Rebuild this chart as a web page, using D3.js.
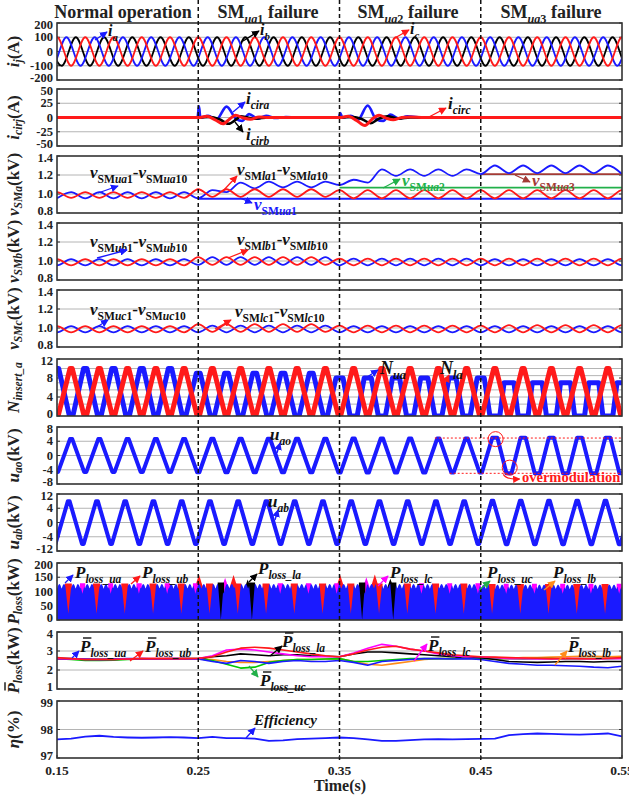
<!DOCTYPE html>
<html>
<head>
<meta charset="utf-8">
<script src="https://cdn.jsdelivr.net/npm/d3@7"></script>
<style>
  body { margin: 0; background: #fff; }
  text { font-family: "Liberation Serif", "Times New Roman", serif; font-weight: bold; }
</style>
</head>
<body>
<div id="chart"></div>
<script>
/// values

const xTicks = [0.15, 0.25, 0.35, 0.45, 0.55]
const faults = [0.25, 0.35, 0.45]
const half = 0.01                      // half period of the 50 Hz waveforms

// panel 1 : arm currents, first positive peak time + amplitude per segment
const iPeakTime = { a: 0.15667, b: 0.16333, c: 0.15 }
const iAmp = [100, 100, 100, 100]

// panel 2 : circulating currents [t, A]
const cirBlue = [[0.15,0],[0.2495,0],[0.2505,20],[0.2515,0],[0.257,3],[0.263,-3],[0.27,19],[0.277,-3],[0.281,-6],[0.286,6],[0.292,-2],[0.298,3],[0.305,-1],[0.312,1],[0.32,0],[0.3495,0],[0.3505,8],[0.352,0],[0.358,3],[0.363,-4],[0.37,21],[0.376,-3],[0.381,-6],[0.386,5],[0.392,-2],[0.398,2],[0.41,0],[0.55,0]]
const cirBlack = [[0.15,0],[0.25,0],[0.258,1],[0.265,-3],[0.2715,-11],[0.277,-3],[0.28,2],[0.285,0],[0.29,-2],[0.3,0],[0.35,0],[0.36,1],[0.366,-3],[0.372,-10],[0.378,-2],[0.384,2],[0.392,-2],[0.4,0],[0.55,0]]
const cirRed = [[0.15,0],[0.25,0],[0.256,2],[0.262,-4],[0.2675,-11],[0.2725,-2],[0.2765,4],[0.282,-1],[0.287,-3],[0.293,1],[0.3,0],[0.35,0],[0.356,2],[0.362,-5],[0.368,-14],[0.373,-3],[0.378,4],[0.383,-1],[0.388,-4],[0.394,0],[0.4,1],[0.41,0],[0.55,0]]

// panel 3 : upper arm SM voltages of phase a, one extremum every 10 ms from 0.15 s
const vUaExt = [0.955,1.02,0.955,1.02,0.955,1.02,0.955,1.02,0.955,1.02,
                0.955,1.04,1.02,1.12,1.06,1.13,1.07,1.13,1.07,1.13,
                1.095,1.15,1.12,1.26,1.19,1.26,1.19,1.26,1.19,1.26,
                1.21,1.30,1.22,1.30,1.22,1.30,1.22,1.30,1.22,1.30,1.21]
const vLaHi = [1.02, 1.05, 1.04, 1.04], vLaLo = [0.96, 0.97, 0.955, 0.955]
const vFailed = [[0.95, 0.25, "#1a1aff"], [1.067, 0.35, "#22b04a"], [1.21, 0.45, "#a33a35"]]  // level, from, colour
// panels 4, 5
const vUbHi = [1.02, 1.04, 1.025, 1.02], vUbLo = [0.955, 0.96, 0.955, 0.955]
const vLbHi = [1.02, 1.04, 1.025, 1.025], vLbLo = [0.955, 0.96, 0.955, 0.955]
const vUcHi = [1.02, 1.025, 1.02, 1.02], vUcLo = [0.955, 0.955, 0.955, 0.955]
const vLcHi = [1.02, 1.04, 1.025, 1.03], vLcLo = [0.955, 0.96, 0.955, 0.955]

// panel 6 : inserted SMs
const nUaHi = [10, 9, 8, 7], nUaLo = [0, 0, 0, 0], nUaFlat = [0.0012, 0.0014, 0.0025, 0.0035]
const nLaHi = [10, 10, 10, 10], nLaLo = [0, 0, 0, 0], nLaFlat = [0.0008, 0.0008, 0.0008, 0.0008]

// panels 7, 8 : output voltages (kV)
const uaoHi = [4.6, 4.7, 4.8, 5.0], uaoLo = [-4.6, -4.7, -4.8, -5.0], uaoFlat = [0.0008, 0.0008, 0.0008, 0.0018]
const uabHi = [6, 6, 6, 6.1], uabLo = [-6, -6, -6, -6.1]
const uabTickLabels = ["12", "4", "0", "-4", "-12"]

// panel 9 : instantaneous losses (kW)
const lossTop = [126, 126, 126, 124]
const lossHump = 0.0033
const lossRedNotch = d3.range(0.158, 0.56, 0.02)
const lossMagNotch = d3.range(0.168, 0.56, 0.02)
const lossBlackNotch = [0.266, 0.288, 0.366, 0.388]
const lossPeaks = [[0.2505,160,"red"],[0.269,148,"magenta"],[0.275,158,"red"],[0.285,142,"black"],
                   [0.3505,158,"red"],[0.369,150,"magenta"],[0.375,160,"red"],[0.386,145,"black"]]

// panel 10 : average losses (kW), one value every 10 ms from 0.15 s
const pUa = [2.62,2.6,2.57,2.55,2.57,2.6,2.6,2.58,2.6,2.6,2.58, 2.45,2.35,2.5,2.45,2.35,2.45,2.5,2.45,2.45,2.5, 2.4,2.25,2.45,2.5,2.55,2.6,2.6,2.58,2.6,2.55, 2.45,2.35,2.3,2.25,2.25,2.22,2.2,2.15,2.12,2.2]
const pUb = [2.65,2.6,2.55,2.55,2.55,2.58,2.6,2.6,2.6,2.6,2.62, 2.7,2.95,3.15,3.2,3.15,3.05,2.95,2.85,2.75,2.7, 2.85,3.05,3.2,3.25,3.1,3.0,2.9,2.8,2.75,2.7, 2.68,2.65,2.63,2.62,2.6,2.62,2.6,2.6,2.62,2.65]
const pLc = [2.6,2.58,2.55,2.55,2.55,2.58,2.6,2.6,2.6,2.6,2.6, 2.75,3.05,3.1,3.05,2.95,2.85,2.75,2.7,2.7,2.7, 2.9,3.15,3.35,3.25,3.1,3.0,2.85,2.75,2.7,2.7, 2.65,2.6,2.6,2.58,2.58,2.6,2.6,2.58,2.6,2.6]
const pLa = [2.6,2.58,2.55,2.55,2.55,2.58,2.58,2.58,2.58,2.58,2.6, 2.7,2.75,2.85,2.8,2.75,2.8,2.8,2.75,2.72,2.7, 2.85,2.95,2.95,2.9,2.85,2.8,2.75,2.7,2.7,2.65, 2.55,2.45,2.42,2.4,2.42,2.45,2.45,2.42,2.45,2.45]
const pUc = [2.6,2.55,2.5,2.5,2.52,2.55,2.58,2.58,2.58,2.6,2.6, 2.5,2.3,2.1,2.15,2.4,2.5,2.55,2.55,2.58,2.6, 2.45,2.45,2.5,2.55,2.6,2.6,2.6,2.6,2.62,2.6, 2.6,2.6,2.58,2.6,2.6,2.58,2.6,2.6,2.6,2.62]
const pLb = [2.6,2.6,2.58,2.58,2.58,2.58,2.6,2.6,2.6,2.6,2.6, 2.55,2.45,2.4,2.4,2.45,2.5,2.55,2.55,2.58,2.6, 2.45,2.3,2.25,2.35,2.45,2.55,2.6,2.6,2.62,2.6, 2.6,2.62,2.65,2.65,2.68,2.7,2.72,2.72,2.7,2.72]

// panel 11 : efficiency (%)
const eff = [97.65,97.68,97.75,97.78,97.74,97.72,97.71,97.72,97.73,97.72,97.7, 97.74,97.7,97.7,97.68,97.6,97.62,97.66,97.68,97.7,97.72, 97.7,97.65,97.6,97.6,97.63,97.65,97.66,97.65,97.66,97.67, 97.68,97.8,97.84,97.86,97.85,97.83,97.82,97.84,97.86,97.76]

/// layout

const blue = "#1a1aff", red = "#ff1a1a", black = "#000", magenta = "#ff00ff", green = "#00c800", orange = "#ff8c1a"
const panelTop = [23, 89, 156, 223, 290, 359, 427, 494, 563, 632, 701]
const panelH = 57

let svg = d3.select("#chart").append("svg").attr("width", 629).attr("height", 796)
let x = d3.scaleLinear().domain([0.15, 0.55]).range([57, 622])

let f1 = d3.format(".1f")
const panels = [
  { dom: [-200, 200], ticks: [200, 100, 0, -100, -200], grid: [100, 0, -100], label: [["i",1],["j",1,1],["(A)"]] },
  { dom: [-50, 50], ticks: [50, 25, 0, -25, -50], grid: [25, 0, -25], label: [["i",1],["cirj",1,1],["(A)"]] },
  { dom: [0.8, 1.4], ticks: [1.4, 1.2, 1.0, 0.8], fmt: f1, grid: [1.2, 1.0], label: [["v",1],["SMa",1,1],["(kV)"]] },
  { dom: [0.8, 1.4], ticks: [1.4, 1.2, 1.0, 0.8], fmt: f1, grid: [1.2, 1.0], label: [["v",1],["SMb",1,1],["(kV)"]] },
  { dom: [0.8, 1.4], ticks: [1.4, 1.2, 1.0, 0.8], fmt: f1, grid: [1.2, 1.0], label: [["v",1],["SMc",1,1],["(kV)"]] },
  { dom: [0, 12], ticks: [12, 8, 4, 0], grid: [10, 8.5, 7, 5.5, 4, 2.5], label: [["N",1],["insert_a",1,1]] },
  { dom: [-8, 8], ticks: [8, 4, 0, -4, -8], grid: [4, 0, -4], label: [["u",1],["ao",1,1],["(kV)"]] },
  { dom: [-8, 8], ticks: [8, 4, 0, -4, -8], fmt: (d, i) => uabTickLabels[i], grid: [4, 0, -4], label: [["u",1],["ab",1,1],["(kV)"]] },
  { dom: [0, 200], ticks: [200, 150, 100, 50, 0], grid: [150, 100, 50], label: [["P",1],["loss",1,1],["(kW)"]] },
  { dom: [1, 4], ticks: [4, 3, 2, 1], grid: [3, 2], label: [["P",1],["loss",1,1],["(kW)"]], bar: true },
  { dom: [97, 99], ticks: [99, 98, 97], grid: [98], label: [["η",1],["(%)"]] }
]

// arrow heads
let defs = svg.append("defs")
const arrowColors = { blue: blue, red: red, black: black, magenta: magenta, green: "#22b04a", orange: orange, brown: "#a33a35" }
Object.entries(arrowColors).forEach(([k, c]) => {
  defs.append("marker").attr("id", "ah-" + k).attr("viewBox", "0 0 10 10").attr("refX", 9).attr("refY", 5)
    .attr("markerWidth", 6).attr("markerHeight", 6).attr("orient", "auto")
    .append("path").attr("d", "M0,0L10,5L0,10z").attr("fill", c)
})

function seg(t) { return t < 0.25 ? 0 : t < 0.35 ? 1 : t < 0.45 ? 2 : 3 }

// knots at every extremum of a periodic wave, hi/lo taken per segment
function extrema(t0, hi, lo, startHi, flat) {
  let pts = []
  for (let k = -2; k <= 42; k++) {
    let t = t0 + k * half
    let s = seg(t)
    let up = (Math.abs(k) % 2 === 0) === startHi
    let v = up ? hi[s] : lo[s]
    let w = flat ? flat[s] : 0
    if (w) { pts.push([t - w, v]); pts.push([t + w, v]) } else pts.push([t, v])
  }
  return pts
}
function steps(vals) { return vals.map((v, i) => [0.15 + i * half, v]) }

// rich text with italic / subscript parts: [text, italic, sub]
function rich(g, px, py, parts, size, color, anchor, subShift) {
  let t = g.append("text").attr("x", px).attr("y", py).attr("font-size", size)
    .attr("fill", color || "#111").attr("text-anchor", anchor || "start")
  let shift = 0
  parts.forEach(p => {
    let target = p[2] ? size * (subShift || 0.3) : 0
    t.append("tspan").attr("dy", target - shift).attr("font-size", p[2] ? size * 0.68 : size)
      .attr("font-style", p[1] ? "italic" : "normal").text(p[0])
    shift = target
  })
  return t
}
function overbar(g, t) {
  let r = t.node().getExtentOfChar(0)
  g.append("line").attr("x1", r.x + 3).attr("x2", r.x + r.width + 1).attr("y1", r.y + 1).attr("y2", r.y + 1)
    .attr("stroke", "#111").attr("stroke-width", 1.4)
}
function arrow(x1, y1, x2, y2, c) {
  svg.append("line").attr("x1", x1).attr("y1", y1).attr("x2", x2).attr("y2", y2)
    .attr("stroke", arrowColors[c]).attr("stroke-width", 1.3).attr("marker-end", `url(#ah-${c})`)
}

/// panels: frame, grid, ticks, labels
let ys = []
let plots = []
panels.forEach((p, i) => {
  let y = d3.scaleLinear().domain(p.dom).range([panelTop[i] + panelH, panelTop[i]])
  ys.push(y)
  let g = svg.append("g")
  g.selectAll(".grid").data(p.grid).enter().append("line")
    .attr("x1", 57).attr("x2", 622).attr("y1", d => y(d)).attr("y2", d => y(d))
    .attr("stroke", "#b4b4b4").attr("stroke-width", 1)
  svg.append("clipPath").attr("id", "clip" + i).append("rect")
    .attr("x", 57).attr("y", panelTop[i]).attr("width", 565).attr("height", panelH)
  plots.push(svg.append("g").attr("clip-path", `url(#clip${i})`))

  // end labels nudged inward a little so neighbouring panels' labels do not collide
  let fmt = p.fmt || (d => d)
  let last = p.ticks.length - 1
  g.selectAll(".tl").data(p.ticks).enter().append("text")
    .attr("x", 53).attr("y", (d, j) => y(d) + (j === 0 ? 2 : j === last ? -2 : 0))
    .attr("dy", "0.33em").attr("text-anchor", "end")
    .attr("font-size", 12.5).attr("fill", "#222").text((d, j) => fmt(d, j))
  p.ticks.forEach(d => {
    g.append("line").attr("x1", 57).attr("x2", 60).attr("y1", y(d)).attr("y2", y(d)).attr("stroke", "#333")
    g.append("line").attr("x1", 619).attr("x2", 622).attr("y1", y(d)).attr("y2", y(d)).attr("stroke", "#333")
  })

  let lg = svg.append("g").attr("transform", `translate(19,${panelTop[i] + panelH / 2}) rotate(-90)`)
  let lt = rich(lg, 0, 0, p.label, 17, "#222", "middle", 0.2)
  if (p.bar) overbar(lg, lt)
})

let line = (y, curve) => d3.line().x(d => x(d[0])).y(d => y(d[1])).curve(curve || d3.curveMonotoneX)
function drawLine(i, data, color, width, curve) {
  plots[i].append("path").datum(data).attr("d", line(ys[i], curve)).attr("fill", "none")
    .attr("stroke", color).attr("stroke-width", width).attr("stroke-linejoin", "round")
}

/// 1. arm currents
drawLine(0, extrema(iPeakTime.b, iAmp, iAmp.map(v => -v), true), black, 1.8)
drawLine(0, extrema(iPeakTime.a, iAmp, iAmp.map(v => -v), true), blue, 1.8)
drawLine(0, extrema(iPeakTime.c, iAmp, iAmp.map(v => -v), true), red, 1.8)

/// 2. circulating currents
drawLine(1, cirBlue, blue, 2.6)
drawLine(1, cirBlack, black, 2.6)
drawLine(1, cirRed, red, 3)

/// 3-5. SM capacitor voltages
vFailed.forEach(f => drawLine(2, [[f[1], f[0]], [0.55, f[0]]], f[2], 1.8, d3.curveLinear))
drawLine(2, vUaExt.map((v, k) => [0.15 + k * half, v]), blue, 1.8)
drawLine(2, extrema(0.15, vLaHi, vLaLo, true), red, 1.8)
drawLine(3, extrema(0.15, vUbHi, vUbLo, false), blue, 1.8)
drawLine(3, extrema(0.15, vLbHi, vLbLo, true), red, 1.8)
drawLine(4, extrema(0.15, vUcHi, vUcLo, false), blue, 1.8)
drawLine(4, extrema(0.15, vLcHi, vLcLo, true), red, 1.8)

/// 6. inserted SM numbers
drawLine(5, extrema(0.15, nUaHi, nUaLo, true, nUaFlat), blue, 5, d3.curveLinear)
drawLine(5, extrema(0.15, nLaHi, nLaLo, false, nLaFlat), red, 5, d3.curveLinear)

/// 7-8. output voltages
drawLine(6, extrema(0.15, uaoHi, uaoLo, false, uaoFlat), blue, 4, d3.curveLinear)
drawLine(7, extrema(0.1583, uabHi, uabLo, true, [0.0006, 0.0006, 0.0006, 0.0006]), blue, 4, d3.curveLinear)

/// 9. instantaneous losses as filled areas
const lossT = d3.range(0.15, 0.5501, 0.00025)
function peakAt(t, col) {
  let v = 0
  lossPeaks.filter(p => p[2] === col).forEach(p => {
    let d = Math.abs(t - p[0]); if (d < 0.004) v = Math.max(v, p[1] * (1 - 0.4 * d / 0.004))
  })
  return v
}
function near(t, list, hw) { return list.some(c => Math.abs(t - c) < hw) }
function lossBlue(t) {
  let top = lossTop[seg(t)]
  let v = top * (0.87 + 0.13 * Math.abs(Math.sin(Math.PI * (t - 0.15) / lossHump)))
  lossRedNotch.forEach(c => { let d = Math.abs(t - c); if (d < 0.0022) v = Math.min(v, 22 + (top - 22) * d / 0.0022) })
  lossMagNotch.forEach(c => { let d = Math.abs(t - c); if (d < 0.0016) v = Math.min(v, 92 + (top - 92) * d / 0.0016) })
  lossBlackNotch.forEach(c => { let d = Math.abs(t - c); if (d < 0.002) v = Math.min(v, top * d / 0.002) })
  return v
}
const lossLayers = [
  [red, t => Math.max(near(t, lossRedNotch, 0.0026) ? lossTop[seg(t)] + 2 : 0, peakAt(t, "red"))],
  [magenta, t => Math.max(near(t, lossMagNotch, 0.002) ? lossTop[seg(t)] + 3 : 0, peakAt(t, "magenta"))],
  [black, t => Math.max(near(t, lossBlackNotch, 0.0024) ? 132 : 0, peakAt(t, "black"))],
  [blue, lossBlue]
]
lossLayers.forEach(([c, fn]) => {
  plots[8].append("path").datum(lossT.map(t => [t, fn(t)]))
    .attr("d", d3.area().x(d => x(d[0])).y0(ys[8](0)).y1(d => ys[8](d[1])))
    .attr("fill", c)
})

/// 10. average losses
;[[pLb, orange], [pUc, green], [pLa, black], [pUa, blue], [pLc, magenta], [pUb, red]]
  .forEach(([vals, c]) => drawLine(9, steps(vals), c, 1.6, d3.curveLinear))

/// 11. efficiency
drawLine(10, steps(eff), blue, 1.8, d3.curveLinear)

/// frames on top of the data
panels.forEach((p, i) => {
  svg.append("rect").attr("x", 57).attr("y", panelTop[i]).attr("width", 565).attr("height", panelH)
    .attr("fill", "none").attr("stroke", "#333").attr("stroke-width", 1.6)
})

/// overmodulation marks on u_ao
let yao = ys[6]
svg.append("line").attr("x1", x(0.4175)).attr("x2", 622).attr("y1", yao(4.9)).attr("y2", yao(4.9))
  .attr("stroke", red).attr("stroke-width", 1).attr("stroke-dasharray", "2,2")
svg.append("line").attr("x1", x(0.428)).attr("x2", 622).attr("y1", yao(-5)).attr("y2", yao(-5))
  .attr("stroke", red).attr("stroke-width", 1).attr("stroke-dasharray", "2,2")
svg.append("circle").attr("cx", x(0.4605)).attr("cy", yao(4.6)).attr("r", 7.5).attr("fill", "none").attr("stroke", red)
svg.append("circle").attr("cx", x(0.4705)).attr("cy", yao(-3.4)).attr("r", 7.5).attr("fill", "none").attr("stroke", red)
svg.append("path").attr("d", `M${x(0.466)},${yao(-5.3)} Q${x(0.468)},${yao(-6.8)} ${x(0.4775)},${yao(-6.6)}`)
  .attr("fill", "none").attr("stroke", red).attr("stroke-width", 1.2).attr("marker-end", "url(#ah-red)")
svg.append("text").attr("x", 522).attr("y", 482).attr("font-size", 14.5).attr("fill", red).text("overmodulation")

/// fault instants
faults.forEach(f => {
  svg.append("line").attr("x1", x(f)).attr("x2", x(f)).attr("y1", 0).attr("y2", 760)
    .attr("stroke", "#111").attr("stroke-width", 1.5).attr("stroke-dasharray", "4,3")
})

/// section titles
const titles = [
  [123, [["Normal operation"]]],
  [268, [["SM"], ["ua", 1, 1], ["1", 0, 1], [" failure"]]],
  [408, [["SM"], ["ua", 1, 1], ["2", 0, 1], [" failure"]]],
  [551, [["SM"], ["ua", 1, 1], ["3", 0, 1], [" failure"]]]
]
titles.forEach(([tx, parts]) => rich(svg, tx, 18, parts, 18, "#222", "middle"))

/// x axis of the bottom panel
xTicks.forEach(t => {
  svg.append("text").attr("x", x(t)).attr("y", 775).attr("text-anchor", "middle").attr("font-size", 13.5)
    .attr("fill", "#222").text(t.toFixed(2))
  svg.append("line").attr("x1", x(t)).attr("x2", x(t)).attr("y1", 758).attr("y2", 755).attr("stroke", "#333")
})
svg.append("text").attr("x", 340).attr("y", 791).attr("text-anchor", "middle").attr("font-size", 16)
  .attr("fill", "#222").text("Time(s)")

/// annotations
// panel 1
rich(svg, 108, 36, [["i", 1], ["a", 1, 1]], 16); arrow(95, 40, 107, 32, "blue")
rich(svg, 260, 35, [["i", 1], ["b", 1, 1]], 16); arrow(243, 41, 259, 31, "black")
rich(svg, 410, 34, [["i", 1], ["c", 1, 1]], 16); arrow(393, 39, 409, 30, "red")
// panel 2
rich(svg, 246, 104, [["i", 1], ["cira", 1, 1]], 17); arrow(233, 112, 245, 102, "blue")
rich(svg, 246, 140, [["i", 1], ["cirb", 1, 1]], 17); arrow(235, 122, 243, 132, "black")
rich(svg, 448, 109, [["i", 1], ["circ", 1, 1]], 17); arrow(427, 118, 446, 108, "red")
// panels 3-5
const vLab = (px, py, a, b, c) => rich(svg, px, py, [["v", 1], ["SM", 0, 1], [a, 1, 1], ["1", 0, 1], ["-"], ["v", 1], ["SM", 0, 1], [a, 1, 1], ["10", 0, 1]], 17, c)
vLab(90, 178, "ua"); arrow(98, 193, 118, 186, "blue")
vLab(237, 175, "la"); arrow(222, 192, 237, 176, "red")
rich(svg, 254, 210, [["v", 1], ["SM", 0, 1], ["ua", 1, 1], ["1", 0, 1]], 17, blue); arrow(240, 198, 252, 203, "blue")
rich(svg, 402, 186, [["v", 1], ["SM", 0, 1], ["ua", 1, 1], ["2", 0, 1]], 17, "#22b04a"); arrow(383, 188, 400, 179, "green")
rich(svg, 532, 186, [["v", 1], ["SM", 0, 1], ["ua", 1, 1], ["3", 0, 1]], 17, "#a33a35"); arrow(515, 175, 530, 182, "brown")
vLab(90, 247, "ub"); arrow(97, 258, 127, 250, "blue")
vLab(237, 245, "lb"); arrow(228, 258, 248, 250, "red")
vLab(90, 315, "uc"); arrow(97, 327, 108, 320, "blue")
vLab(235, 317, "lc"); arrow(215, 329, 231, 320, "red")
// panel 6
rich(svg, 380, 374, [["N", 1], ["ua", 1, 1]], 18); arrow(364, 379, 378, 370, "blue")
rich(svg, 440, 374, [["N", 1], ["la", 1, 1]], 18); arrow(444, 385, 449, 375, "red")
// panels 7, 8
rich(svg, 270, 440, [["u", 1], ["ao", 1, 1]], 17); arrow(277, 453, 280, 443, "blue")
rich(svg, 268, 507, [["u", 1], ["ab", 1, 1]], 17); arrow(275, 520, 278, 510, "blue")
// panel 9
rich(svg, 75, 578, [["P", 1], ["loss_ua", 1, 1]], 17); arrow(65, 583, 73, 575, "blue")
rich(svg, 142, 578, [["P", 1], ["loss_ub", 1, 1]], 17); arrow(131, 584, 140, 576, "red")
rich(svg, 258, 574, [["P", 1], ["loss_la", 1, 1]], 17); arrow(249, 582, 257, 574, "black")
rich(svg, 390, 578, [["P", 1], ["loss_lc", 1, 1]], 17); arrow(378, 586, 388, 576, "magenta")
rich(svg, 487, 578, [["P", 1], ["loss_uc", 1, 1]], 17); arrow(479, 590, 490, 581, "green")
rich(svg, 553, 578, [["P", 1], ["loss_lb", 1, 1]], 17); arrow(544, 590, 555, 581, "orange")
// panel 10
;[[80, 652, "ua", 72, 658, 79, 651, "blue"], [145, 652, "ub", 130, 661, 143, 651, "red"],
  [282, 647, "la", 270, 656, 282, 646, "black"], [260, 686, "uc", 249, 666, 258, 677, "green"],
  [428, 651, "lc", 414, 661, 427, 644, "magenta"], [568, 652, "lb", 555, 665, 567, 651, "orange"]]
  .forEach(([px, py, s, a1, a2, a3, a4, c]) => {
    let t = rich(svg, px, py, [["P", 1], ["loss_" + s, 1, 1]], 17)
    overbar(svg, t)
    arrow(a1, a2, a3, a4, c)
  })
// panel 11
svg.append("text").attr("x", 254).attr("y", 725).attr("font-size", 15).attr("font-style", "italic")
  .attr("fill", "#111").text("Efficiency")
arrow(246, 738, 255, 728, "blue")
</script>
</body>
</html>
